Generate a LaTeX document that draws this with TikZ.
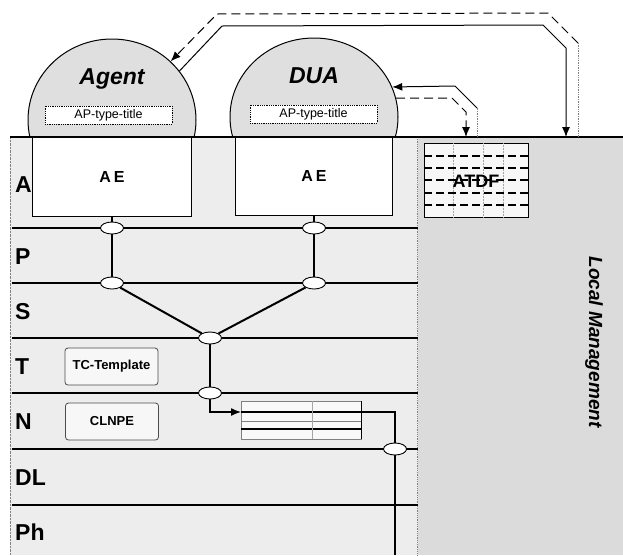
\documentclass[tikz,border=0pt]{standalone}
\usepackage{fontspec}
\setmainfont{Liberation Sans}
\usetikzlibrary{arrows.meta,shapes.geometric}
\begin{document}
\begin{tikzpicture}[x=1pt,y=-1pt,
  layerline/.style={line width=1.3pt},
  lbl/.style={font=\fontsize{23}{25}\selectfont\bfseries, anchor=west, inner sep=0},
  aebox/.style={draw, line width=0.8pt, fill=white, minimum width=159pt, minimum height=79pt, inner sep=0, font=\fontsize{16}{18}\selectfont\bfseries},
  dome/.style={ellipse, draw, line width=1pt, fill=gray!25, minimum width=168pt, minimum height=162pt, inner sep=0},
  domelbl/.style={font=\fontsize{23}{25}\selectfont\bfseries\itshape, inner sep=0},
  aptitle/.style={draw, densely dotted, line width=0.8pt, fill=white, minimum width=127pt, minimum height=18pt, inner sep=0, font=\fontsize{12.5}{14}\selectfont},
  sap/.style={ellipse, draw, line width=0.9pt, fill=white, minimum width=23pt, minimum height=12pt, inner sep=0},
  tmpl/.style={draw=black!70, rounded corners=3pt, fill=gray!6, line width=0.8pt, minimum width=93pt, minimum height=37pt, inner sep=0, font=\fontsize{13}{15}\selectfont\bfseries},
  conn/.style={line width=1.3pt},
  thickconn/.style={line width=2pt},
  tip/.style={-{Latex[length=10pt,width=8pt]}},
  faint/.style={gray, densely dotted, line width=0.7pt},
  longdash/.style={dash pattern=on 9pt off 5pt, line width=1pt},
]
\useasboundingbox (0,0) rectangle (623,555);
% backgrounds
\fill[gray!14] (10,137) rectangle (418,555);
\fill[gray!28] (418,137) rectangle (623,555);
\draw[densely dotted, line width=0.8pt, gray] (417,137) -- (417,555);
\draw[densely dotted, gray] (10,137) -- (10,555);
% domes
\begin{scope}
\clip (0,0) rectangle (623,137);
\node[dome] (agentd) at (112,120) {};
\node[dome, minimum height=158pt] (duad) at (314,117) {};
\end{scope}
\node[domelbl] (agentt) at (112,79) {Agent};
\node[domelbl] (duat) at (314,76) {DUA};
\node[aptitle] (apt1) at (108.5,115) {AP-type-title};
\node[aptitle] (apt2) at (313.5,114) {AP-type-title};
% AE boxes
\node[aebox] (ae1) at (112,176.5) {A\kern3pt E};
\node[aebox, minimum width=157pt, minimum height=78pt] (ae2) at (314,176) {A\kern3pt E};
% top line
\draw[line width=1.5pt] (10,137) -- (623,137);
% layer lines
\foreach \y in {228,283,338,393,449,505} \draw[layerline] (12,\y) -- (418,\y);
% layer labels
\node[lbl] (la) at (15,185) {A};
\node[lbl] (lp) at (15,257) {P};
\node[lbl] (ls) at (15,312) {S};
\node[lbl] (lt) at (15,367) {T};
\node[lbl] (ln) at (15,422) {N};
\node[lbl] (ldl) at (15,478) {DL};
\node[lbl] (lph) at (15,532) {Ph};
% ATDF
\node[draw, line width=0.9pt, fill=gray!6, minimum width=104pt, minimum height=74pt, inner sep=0] (atdf) at (476,180) {};
\foreach \x in {453,483,503} \draw[gray!70, densely dotted, line width=0.5pt] (\x,143) -- (\x,217);
\foreach \y in {156,168,180,193,205} \draw[dash pattern=on 8pt off 4pt, line width=1.1pt] (424,\y) -- (528,\y);
\node[font=\fontsize{18}{20}\selectfont\bfseries, inner sep=0] (atdft) at (476,181) {ATDF};
% templates
\node[tmpl] (tct) at (111.5,366.5) {TC-Template};
\node[tmpl] (clnpe) at (112,421.5) {CLNPE};
% SAPs
\node[sap] (o1) at (112,228) {};
\node[sap] (o2) at (314,228) {};
\node[sap] (o3) at (112,283) {};
\node[sap] (o4) at (314,283) {};
\node[sap] (o5) at (210,338) {};
\node[sap] (o6) at (210,393) {};
\node[sap] (o7) at (395,449) {};
% table
\node[draw=gray, line width=0.6pt, fill=gray!5, minimum width=120pt, minimum height=38pt, inner sep=0] (tbl) at (301,420) {};
\draw[line width=1.1pt] (241,412) -- (361,412);
\draw[gray, line width=0.8pt] (241,421) -- (361,421);
\draw[line width=1.1pt] (241,429) -- (361,429);
\draw[gray!70] (312,401) -- (312,439);
\draw[line width=0.8pt] (361,401) -- (361,439);
\coordinate (tin) at (241,412);
\coordinate (tout) at (361,412);
\coordinate (bot) at (395,555);
% connectors
\draw[conn] (ae1.south) -- (o1);
\draw[conn] (o1) -- (o3);
\draw[conn] (ae2.south) -- (o2);
\draw[conn] (o2) -- (o4);
\draw[thickconn] (o3) -- (o5);
\draw[thickconn] (o4) -- (o5);
\draw[conn] (o5) -- (o6);
\draw[conn, tip] (o6) |- (tin);
\draw[conn] (tout) -| (o7);
\draw[conn] (o7) -- (bot);
% management connectors
\coordinate (m1) at (566,137);
\coordinate (m2) at (578,137);
\coordinate (m2t) at (578,43);
\coordinate (m3) at (477,137);
\coordinate (m3t) at (477,108);
\coordinate (m4) at (466,137);
\draw[line width=1pt, tip] (agentd.36) -- (222,26) -- (543,25) -- (566,48) -- (m1);
\draw[faint] (m2) -- (m2t);
\draw[longdash, tip] (m2t) -- (548,13) -- (217,14) -- (agentd.45);
\draw[faint] (m3) -- (m3t);
\draw[line width=1pt, tip] (m3t) -- (455,86) -- (duad.21);
\draw[longdash, tip] (duad.13) -- (452,98) -- (466,112) -- (m4);
% local management
\node[rotate=-90, font=\fontsize{19}{21}\selectfont\bfseries\itshape] (lm) at (594,342) {Local Management};
\end{tikzpicture}
\end{document}
